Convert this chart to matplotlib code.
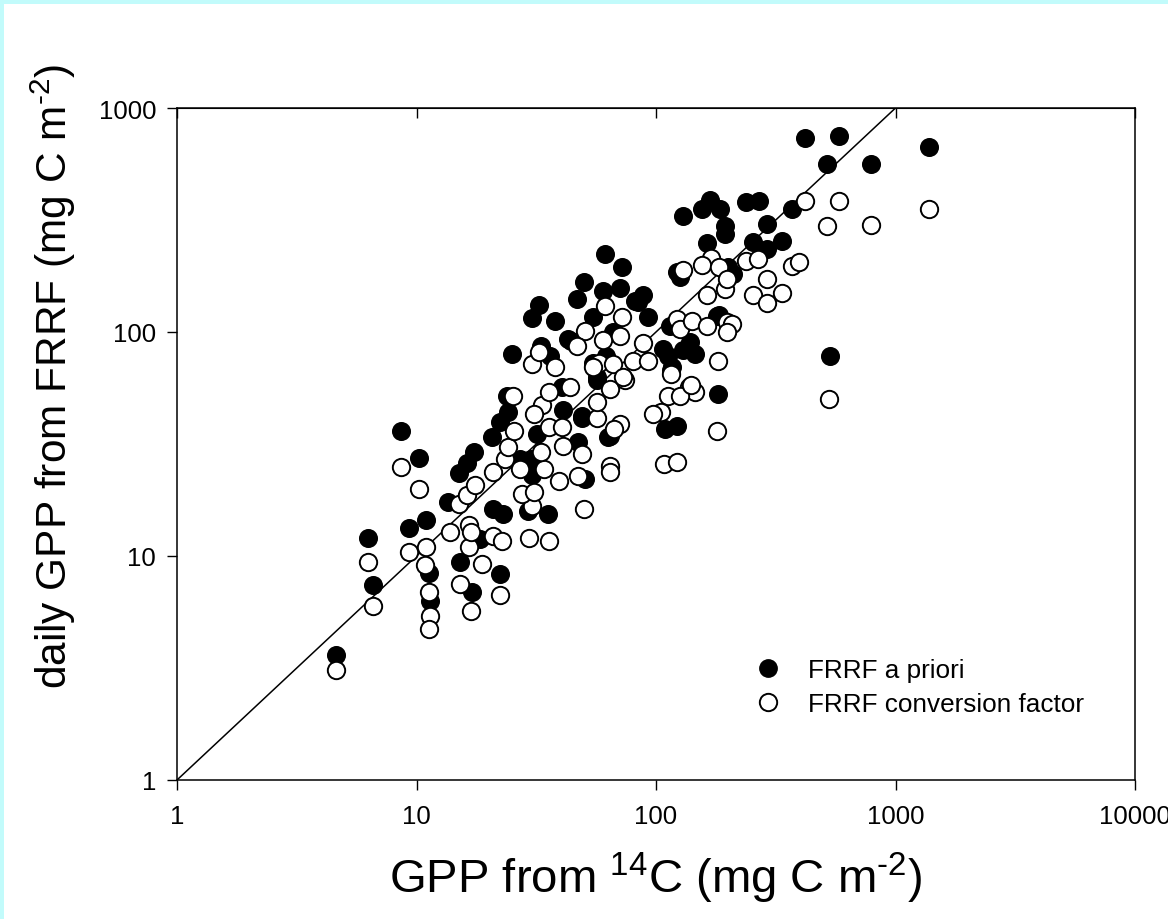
import matplotlib
matplotlib.use("Agg")
import matplotlib.pyplot as plt
from matplotlib.patches import Rectangle
from matplotlib.lines import Line2D

plt.rcParams["font.family"] = ["Liberation Sans", "DejaVu Sans"]
plt.rcParams["mathtext.fontset"] = "custom"
plt.rcParams["mathtext.rm"] = "Liberation Sans"

# -- data: GPP from 14C (x) vs daily GPP from FRRF (y) --
priori_x = [4.6, 6.3, 6.6, 8.6, 10.2, 9.3, 11, 11.3, 11.4, 15.2, 17, 13.5, 15, 16.3,
            17.4, 22.3, 20.9, 23, 18.4, 20.7, 22.3, 24, 23.8, 27, 30.2, 30.5, 41, 40.6,
            49.3, 47.2, 50.5, 35.3, 29.2, 63, 56.5, 32, 61, 72, 50, 47, 60, 71, 88, 84,
            93, 54.5, 38, 32.5, 30.5, 25, 33, 36, 43, 54.5, 62, 56.5, 114, 180, 112, 130,
            138, 146, 117, 182, 109, 122, 64.5, 49, 418, 580, 520, 790, 370, 130, 155,
            168, 185, 237, 270, 195, 195, 290, 163, 255, 290, 335, 122, 200, 210, 126,
            183, 535, 1380, 107, 116, 82, 44, 66]
priori_y = [3.6, 12, 7.4, 36, 27.5, 13.3, 14.5, 8.4, 6.3, 9.4, 6.9, 17.5, 23.5, 26,
            29, 8.3, 16.2, 15.4, 11.9, 34, 39.5, 44, 52, 27, 27, 23, 45, 57,
            41.5, 32.3, 22, 15.4, 15.9, 34, 61, 35, 224, 196, 167, 141, 152, 158, 146, 136,
            117, 117, 112, 132, 115, 80, 87, 78, 93, 73, 78, 63, 106, 118, 78, 83,
            90, 80, 70, 53, 37, 38, 34.5, 42, 735, 750, 560, 565, 355, 330, 355,
            390, 355, 380, 385, 298, 275, 303, 250, 253, 235, 255, 185, 195, 182, 176,
            119, 78, 670, 84, 68, 137, 91, 100]

conv_x = [4.6, 6.3, 6.6, 8.6, 10.2, 9.3, 11, 10.9, 11.3, 11.4, 11.3, 15.2, 16.9, 13.8,
          15, 16.3, 16.6, 16.6, 18.7, 22.3, 20.9, 22.8, 17.5, 20.9, 23.4, 24, 25.5, 25.3,
          27, 34, 33, 35.7, 40.5, 33.4, 31, 35.7, 43.8, 38, 30.5, 56.5, 56.5, 49, 39.4,
          47.2, 50, 29.5, 35.7, 30.5, 27.5, 64, 64, 71, 64.5, 74, 58, 66, 41, 31, 61,
          72, 50.5, 60, 71, 32.5, 47, 73, 80, 88, 93, 122, 126, 142, 163, 197, 207, 197,
          116, 182, 180, 137, 146, 112, 126, 105, 97, 108, 122, 67, 418, 580, 520, 790,
          170, 155, 130, 183, 237, 267, 370, 395, 195, 197, 163, 290, 255, 290, 335,
          1380, 530, 140, 16.9, 54.5]
conv_y = [3.1, 9.4, 6.0, 25, 19.9, 10.4, 11, 9.1, 6.9, 5.4, 4.7, 7.5, 5.7, 12.8,
          17, 18.7, 13.7, 11, 9.2, 6.7, 12.3, 11.7, 20.7, 23.7, 27, 30.6, 36, 52,
          24.5, 24.5, 29, 37.6, 37.6, 47, 43, 54, 57, 70, 72, 41.5, 48.5, 28.5, 21.6,
          22.7, 16.2, 12, 11.7, 16.7, 19, 25.2, 23.7, 39, 55.5, 61, 73, 72, 31, 19.4, 130,
          117, 101, 92, 96, 81, 87, 63, 74, 89, 74, 114, 103, 112, 106, 111, 109, 100,
          65, 74, 36, 57, 54, 52, 52, 44, 43, 25.7, 26.2, 37, 385, 385, 298, 300,
          215, 200, 190, 195, 207, 212, 197, 205, 155, 172, 146, 172, 146, 135, 150,
          355, 50, 58, 12.8, 70]

line_ends = [1, 1000]

CYAN = "#c2fbfb"

fig = plt.figure(figsize=(11.68, 9.2), dpi=100)
fig.patch.set_facecolor(CYAN)
fig.add_artist(Rectangle((4 / 1168, 0), 1, 915 / 920, transform=fig.transFigure,
                         facecolor="white", edgecolor="none", zorder=-10))

ax = fig.add_axes([177 / 1168, 139 / 920, 958 / 1168, 672 / 920])
ax.set_xscale("log")
ax.set_yscale("log")

ax.plot(line_ends, line_ends, color="black", lw=1.1, zorder=2)
ax.plot(priori_x, priori_y, "o", ms=12.5, mfc="black", mec="black", mew=1.2,
        ls="none", zorder=3)
ax.plot(conv_x, conv_y, "o", ms=12.5, mfc="white", mec="black", mew=1.4,
        ls="none", zorder=4)

ax.set_xlim(1, 10000)
ax.set_ylim(1, 1000)
ax.set_xticks([1, 10, 100, 1000, 10000])
ax.set_xticklabels(["1", "10", "100", "1000", "10000"])
ax.set_yticks([1, 10, 100, 1000])
ax.set_yticklabels(["1", "10", "100", "1000"])
ax.minorticks_off()
ax.tick_params(direction="out", length=7, width=1, labelsize=18.5, pad=8)
ax.tick_params(axis="x", pad=10)
for s in ax.spines.values():
    s.set_linewidth(1.1)

# inward ticks along the top edge
top = ax.secondary_xaxis("top")
top.set_xticks([1, 10, 100, 1000, 10000])
top.minorticks_off()
top.tick_params(direction="in", length=7, width=1, labeltop=False)

handles = [
    Line2D([], [], marker="o", ls="none", ms=12.5, mfc="black", mec="black"),
    Line2D([], [], marker="o", ls="none", ms=12.5, mfc="white", mec="black", mew=1.4),
]
ax.legend(handles, ["FRRF a priori", "FRRF conversion factor"], loc="upper left",
          bbox_to_anchor=(0.603, 0.181), frameon=False, fontsize=18.8, borderpad=0,
          handlelength=1.0, handletextpad=1.04, labelspacing=0.36, borderaxespad=0)

fig.text(656 / 1168, 1 - 893 / 920,
         r"GPP from $\mathregular{^{14}}$C (mg C m$\mathregular{^{\text{-}2}}$)",
         ha="center", va="baseline", fontsize=34)
fig.text(67 / 1168, 1 - 376 / 920,
         r"daily GPP from FRRF (mg C m$\mathregular{^{\text{-}2}}$)",
         ha="center", va="baseline", rotation=90, rotation_mode="anchor", fontsize=30.5)

fig.savefig("out.png", dpi=100, facecolor=fig.get_facecolor())
